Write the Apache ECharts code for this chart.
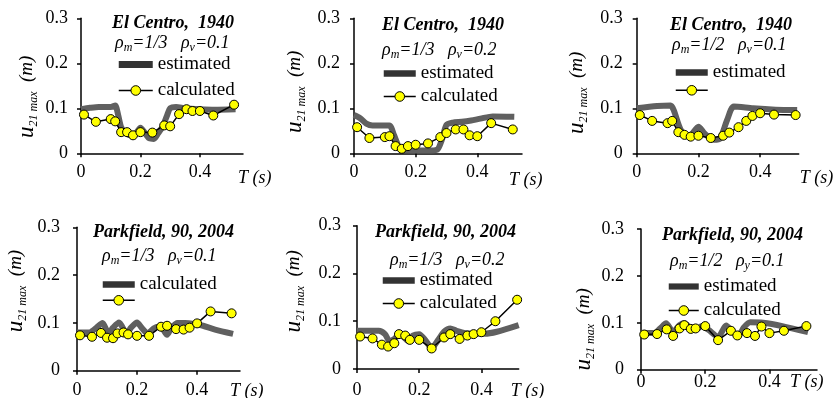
<!DOCTYPE html>
<html><head><meta charset="utf-8">
<script src="https://cdn.jsdelivr.net/npm/echarts@6/dist/echarts.min.js"></script>
<style>html,body{margin:0;padding:0;background:#fff}#c{width:840px;height:398px}</style>
</head><body><div id="c"></div>
<script>
// ---- data ----
const T_TOP = [0.01,0.05,0.1,0.115,0.135,0.155,0.175,0.2,0.24,0.28,0.3,0.33,0.355,0.375,0.4,0.445,0.515];
const T_BOT = [0.01,0.05,0.08,0.1,0.12,0.135,0.155,0.17,0.2,0.24,0.28,0.3,0.33,0.355,0.375,0.4,0.445,0.515];
const X_TICKS = [0, 0.2, 0.4];

const calc1 = [0.086,0.07,0.076,0.071,0.047,0.047,0.04,0.047,0.046,0.062,0.06,0.087,0.098,0.094,0.094,0.084,0.108];
const calc2 = [0.058,0.034,0.036,0.038,0.016,0.010,0.016,0.019,0.022,0.036,0.045,0.053,0.053,0.04,0.038,0.067,0.053];
const calc3 = [0.085,0.072,0.067,0.072,0.047,0.041,0.037,0.039,0.034,0.039,0.046,0.058,0.072,0.083,0.089,0.086,0.085];
const calc4 = [0.074,0.071,0.079,0.069,0.068,0.078,0.08,0.076,0.073,0.073,0.092,0.094,0.087,0.086,0.09,0.099,0.124,0.12];
const calc5 = [0.068,0.064,0.051,0.047,0.054,0.073,0.07,0.061,0.061,0.043,0.066,0.073,0.063,0.07,0.073,0.077,0.1,0.145];
const calc6 = [0.075,0.076,0.086,0.072,0.088,0.095,0.087,0.088,0.093,0.063,0.083,0.073,0.078,0.072,0.092,0.078,0.083,0.093];

const estT1 = [0,0.03,0.06,0.1,0.115,0.125,0.135,0.15,0.17,0.185,0.2,0.215,0.23,0.245,0.26,0.275,0.29,0.3,0.32,0.35,0.4,0.45,0.52];
const estV1 = [0.098,0.101,0.103,0.103,0.106,0.085,0.058,0.045,0.04,0.045,0.057,0.045,0.033,0.032,0.045,0.06,0.085,0.1,0.103,0.1,0.098,0.097,0.098];
const estT2 = [0,0.02,0.04,0.06,0.09,0.115,0.13,0.145,0.16,0.2,0.24,0.27,0.285,0.3,0.32,0.35,0.38,0.41,0.45,0.52];
const estV2 = [0.085,0.078,0.066,0.062,0.062,0.062,0.04,0.015,0.007,0.006,0.006,0.008,0.03,0.063,0.068,0.07,0.073,0.077,0.082,0.081];
const estT3 = [0,0.066,0.11,0.12,0.143,0.17,0.2,0.22,0.249,0.27,0.293,0.315,0.377,0.45,0.52];
const estV3 = [0.1,0.105,0.106,0.096,0.052,0.037,0.059,0.044,0.03,0.033,0.074,0.104,0.1,0.097,0.096];
const estT4 = [0,0.04,0.065,0.085,0.105,0.12,0.14,0.165,0.18,0.2,0.215,0.235,0.255,0.27,0.285,0.3,0.315,0.335,0.36,0.39,0.42,0.46,0.52];
const estV4 = [0.08,0.08,0.09,0.1,0.078,0.09,0.101,0.078,0.09,0.101,0.09,0.078,0.088,0.092,0.088,0.075,0.09,0.1,0.1,0.098,0.094,0.086,0.077];
const estT5 = [0,0.03,0.07,0.09,0.105,0.12,0.135,0.15,0.165,0.18,0.2,0.22,0.24,0.26,0.28,0.3,0.32,0.35,0.38,0.41,0.45,0.52];
const estV5 = [0.08,0.08,0.08,0.073,0.058,0.063,0.072,0.067,0.058,0.07,0.073,0.06,0.044,0.06,0.078,0.085,0.08,0.075,0.074,0.074,0.078,0.092];
const estT6 = [0,0.04,0.06,0.078,0.1,0.12,0.135,0.155,0.17,0.19,0.21,0.24,0.265,0.285,0.305,0.32,0.34,0.38,0.44,0.52];
const estV6 = [0.078,0.078,0.088,0.099,0.081,0.095,0.099,0.088,0.086,0.093,0.085,0.07,0.094,0.08,0.074,0.09,0.101,0.1,0.093,0.08];

const TITLES = ['El Centro,  1940','El Centro,  1940','El Centro,  1940','Parkfield, 90, 2004','Parkfield, 90, 2004','Parkfield, 90, 2004'];
const RHO_M = ['1/3','1/3','1/2','1/3','1/3','1/2'];
const RHO_SUB = ['v','v','v','v','v','y'];
const RHO_V = ['0.1','0.2','0.1','0.1','0.2','0.1'];

// ---- layout (pixels) ----
const L = [
  {g:[81,18.3,162,135], xMax:0.545, ti:[112,23], pa:[115,43], lg:[118,63,34,7], lm:10, ym:13, nG:-5, nT:16, yG:41, yP:[0,22,0,0]},
  {g:[354,18.3,168,135], xMax:0.545, ti:[382,25], pa:[382,50], lg:[383,72,32,4], lm:10, ym:14, nG:-13, nT:18, yG:46, yP:[0,12,0,0]},
  {g:[636.7,18.3,162,135], xMax:0.525, ti:[670,25], pa:[672,45], lg:[675,71,32,3], lm:10, ym:14, nG:1, nT:16, yG:47, yP:[0,14,0,0]},
  {g:[77,227.3,163,143.4], xMax:0.543, ti:[93,232], pa:[102,256], lg:[102,283,32,1], lm:11, ym:17, nG:-10, nT:12, yG:48, yP:[0,0,0,16]},
  {g:[357,225.7,161.7,143.3], xMax:0.52, ti:[375,232], pa:[390,260], lg:[382,279,32,4], lm:12, ym:16, nG:-8, nT:13, yG:50, yP:[0,0,0,12]},
  {g:[641,229,176,140.7], xMax:0.548, ti:[662,235], pa:[670,261], lg:[668,285,30,5], lm:4, ym:17, nG:-27, nT:4, yG:44, yP:[0,60,0,0]}
];
const CALC = [calc1,calc2,calc3,calc4,calc5,calc6];
const EST_T = [estT1,estT2,estT3,estT4,estT5,estT6];
const EST_V = [estV1,estV2,estV3,estV4,estV5,estV6];
const TS = [T_TOP,T_TOP,T_TOP,T_BOT,T_BOT,T_BOT];
const LEG_FMT = [
  n => n, n => n, n => (n === 'calculated' ? '' : n),
  n => (n === 'estimated' ? 'calculated' : ''), n => n, n => n
];

const SERIF = 'Liberation Serif';
const grid = [], xAxis = [], yAxis = [], series = [], title = [], legend = [];
const fmt = v => (v === 0 ? '0' : v.toFixed(1));

L.forEach((c, i) => {
  grid.push({left:c.g[0], top:c.g[1], width:c.g[2], height:c.g[3], outerBoundsMode:'none', containLabel:false});
  xAxis.push({
    type:'value', gridIndex:i, min:0, max:c.xMax, interval:0.2,
    axisLine:{show:true, onZero:false, lineStyle:{color:'#000', width:1.5}},
    axisTick:{show:true, length:4, customValues:X_TICKS, lineStyle:{color:'#000', width:1.5}},
    axisLabel:{customValues:X_TICKS, formatter:fmt, fontSize:18, fontFamily:SERIF, color:'#000', margin:c.lm},
    splitLine:{show:false},
    name:'T (s)', nameLocation:'end', nameGap:c.nG,
    nameTextStyle:{fontSize:18, fontFamily:SERIF, fontStyle:'italic', color:'#000', align:'left', verticalAlign:'top', padding:[c.nT,0,0,0]}
  });
  yAxis.push({
    type:'value', gridIndex:i, min:0, max:0.3, interval:0.1,
    axisLine:{show:true, onZero:false, lineStyle:{color:'#000', width:1.5}},
    axisTick:{show:true, length:4, lineStyle:{color:'#000', width:1.5}},
    axisLabel:{formatter:fmt, fontSize:18, fontFamily:SERIF, color:'#000', margin:c.ym},
    splitLine:{show:false},
    name:'{u|u}{s|21 max}{m|  (m)}', nameLocation:'middle', nameRotate:90, nameGap:c.yG,
    nameTextStyle:{padding:c.yP, rich:{
      u:{fontSize:23, fontFamily:SERIF, fontStyle:'italic', color:'#000', lineHeight:26, verticalAlign:'middle'},
      s:{fontSize:12, fontFamily:SERIF, fontStyle:'italic', color:'#000', lineHeight:14, verticalAlign:'bottom'},
      m:{fontSize:19, fontFamily:SERIF, fontStyle:'italic', color:'#000', lineHeight:26, verticalAlign:'middle'}
    }}
  });
  series.push({
    type:'line', name:'estimated', xAxisIndex:i, yAxisIndex:i,
    data:EST_T[i].map((t,k) => [t, EST_V[i][k]]),
    symbol:'none', smooth:0.25, itemStyle:{color:'#606060'},
    lineStyle:{color:'#606060', width:6}, z:2, silent:true
  });
  series.push({
    type:'line', name:'calculated', xAxisIndex:i, yAxisIndex:i,
    data:TS[i].map((t,k) => [t, CALC[i][k]]),
    symbol:'circle', symbolSize:9,
    itemStyle:{color:'#ffff00', borderColor:'#000', borderWidth:1},
    lineStyle:{color:'#000', width:1.5}, z:3, silent:true
  });
  title.push({
    text:TITLES[i], left:c.ti[0], top:c.ti[1]-10, padding:0,
    textStyle:{fontSize:18, fontFamily:SERIF, fontStyle:'italic', fontWeight:'bold', color:'#000', lineHeight:20}
  });
  title.push({
    text:'{a|ρ}{s|m}{a|=' + RHO_M[i] + '   }{a|ρ}{s|' + RHO_SUB[i] + '}{a|=' + RHO_V[i] + '}',
    left:c.pa[0], top:c.pa[1]-11, padding:0,
    textStyle:{fontWeight:'normal', rich:{
      a:{fontSize:18, fontFamily:SERIF, fontStyle:'italic', fontWeight:'normal', color:'#000', lineHeight:22, verticalAlign:'middle'},
      s:{fontSize:12, fontFamily:SERIF, fontStyle:'italic', fontWeight:'normal', color:'#000', lineHeight:12, verticalAlign:'bottom'}
    }}
  });
  legend.push({
    orient:'vertical', left:c.lg[0], top:c.lg[1]-8, padding:0,
    itemWidth:c.lg[2], itemHeight:12, itemGap:c.lg[3],
    selectedMode:false, formatter:LEG_FMT[i],
    textStyle:{fontSize:19, fontFamily:SERIF, color:'#000', lineHeight:16},
    data:[
      {name:'estimated', icon:'rect', itemStyle:{color:'#333', borderWidth:0}},
      {name:'calculated', lineStyle:{color:'#000', width:1.5}, itemStyle:{color:'#ffff00', borderColor:'#000', borderWidth:1}}
    ]
  });
});

// make the "estimated" legend icon a thick bar: rect icon with reduced height
legend.forEach(lg => { lg.data[0].icon = 'path://M0,0 L34,0 L34,7 L0,7 Z'; });

const chart = echarts.init(document.getElementById('c'), null, {renderer:'canvas'});
chart.setOption({animation:false, backgroundColor:'#fff', grid, xAxis, yAxis, series, title, legend});
</script>
</body></html>
